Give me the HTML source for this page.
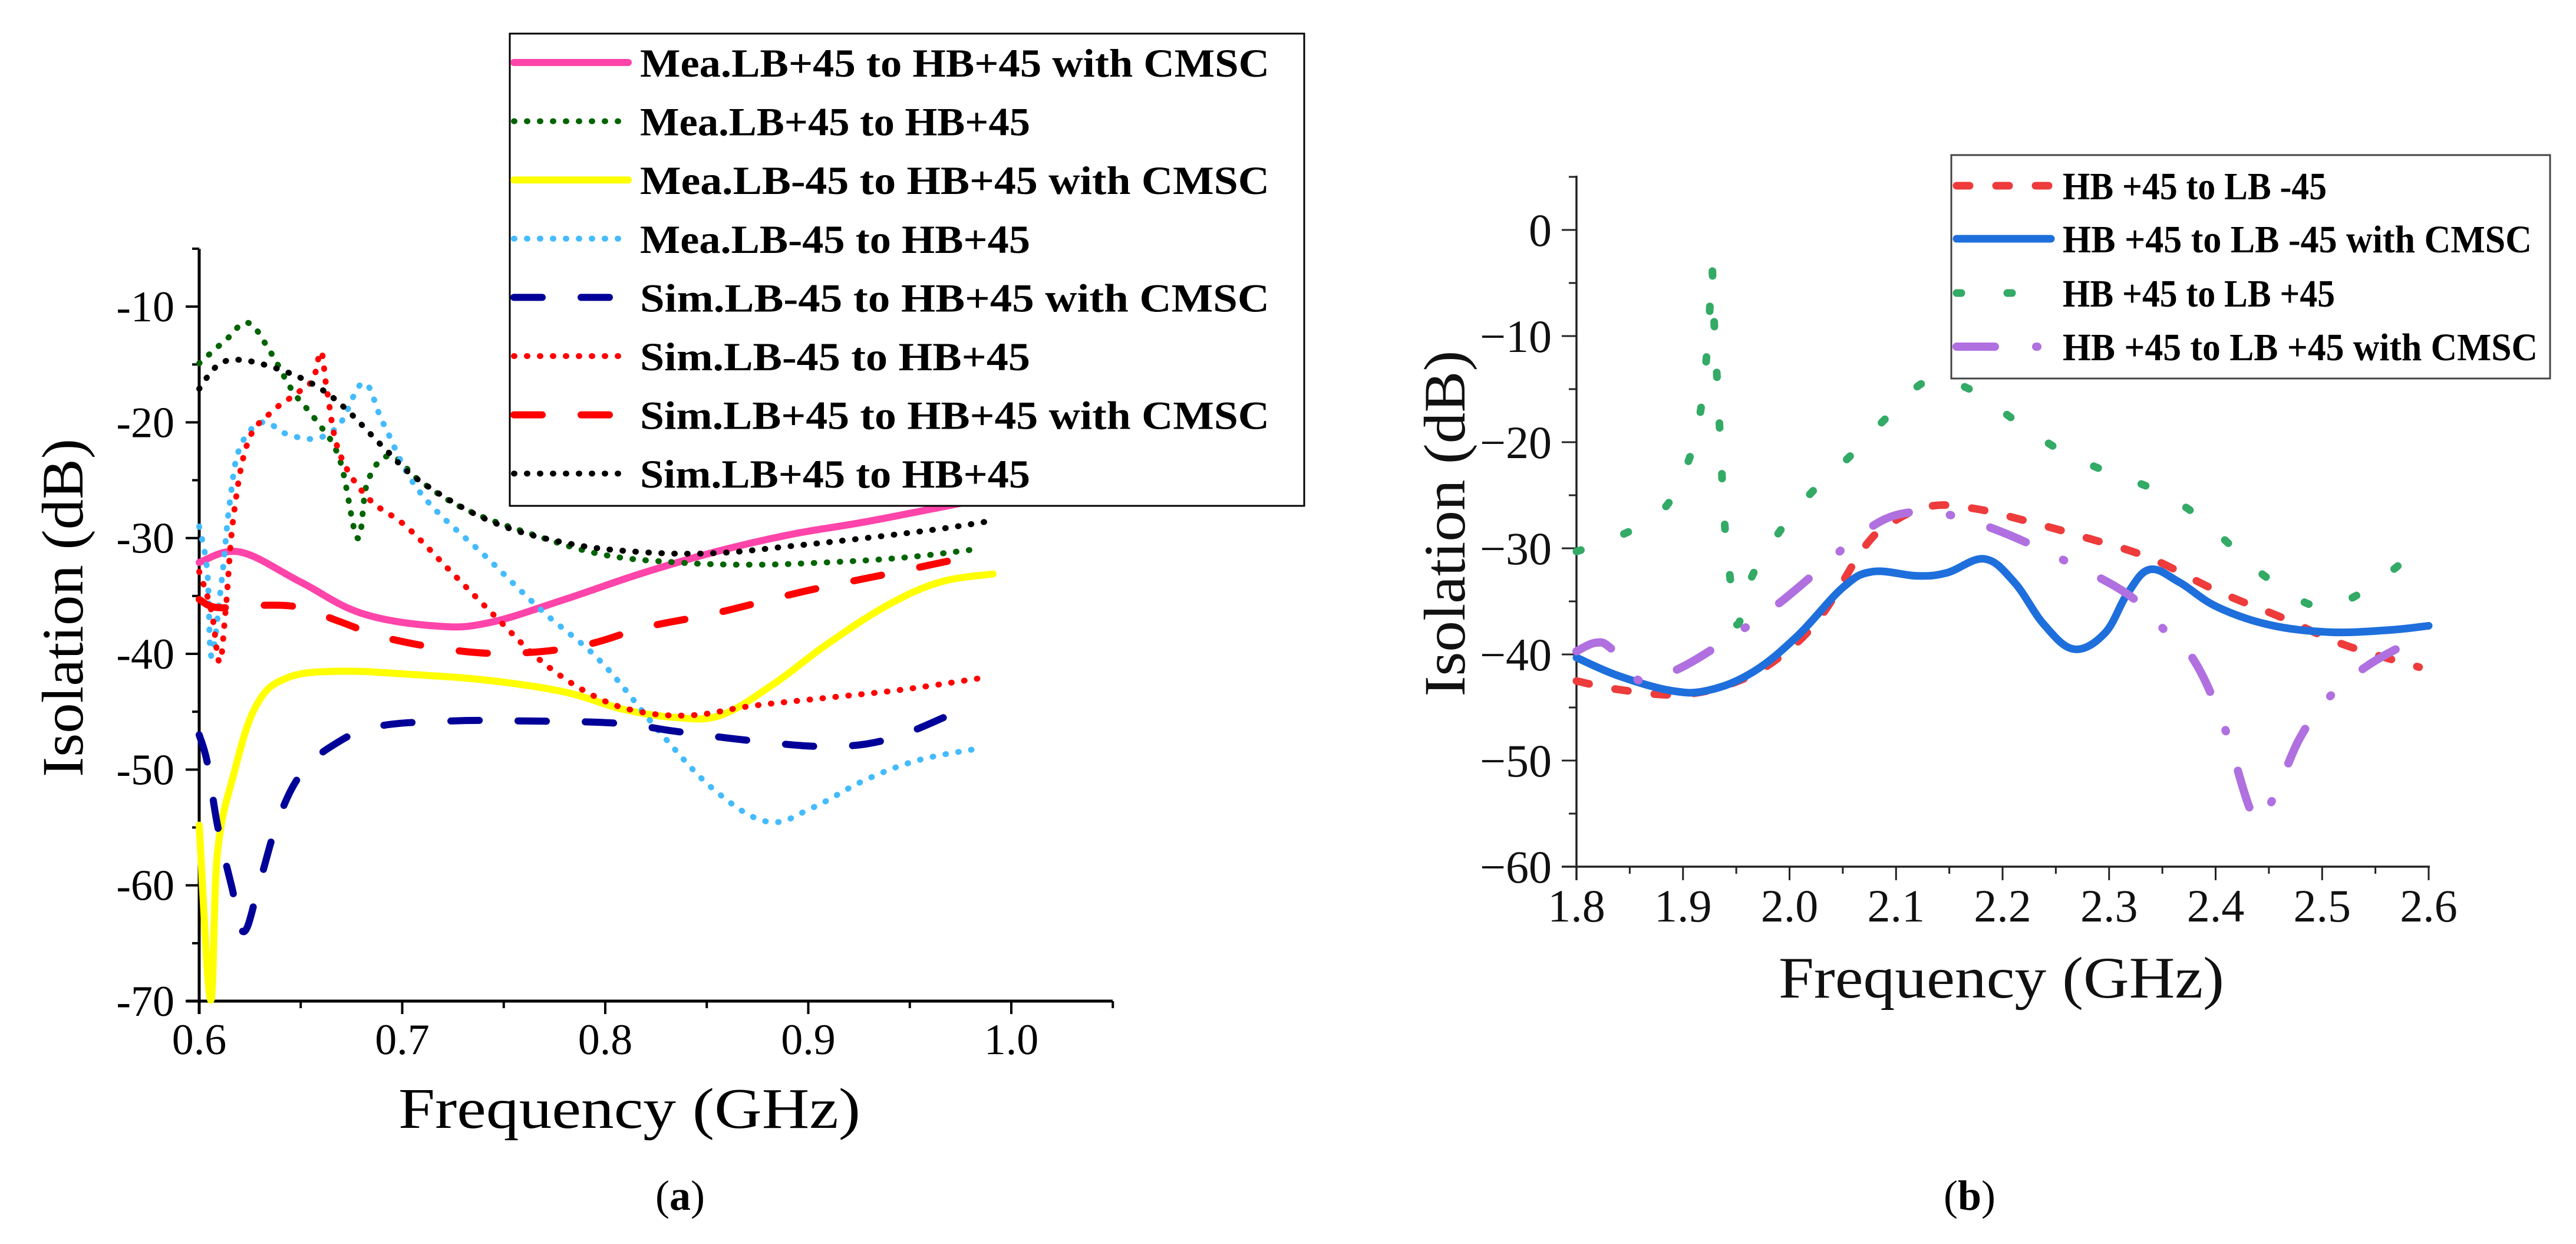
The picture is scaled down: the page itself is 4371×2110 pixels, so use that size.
<!DOCTYPE html>
<html><head><meta charset="utf-8"><style>
html,body{margin:0;padding:0;background:#fff;}
svg{display:block;font-family:"Liberation Serif",serif;}
</style></head><body>
<svg id="fig" width="4371" height="2110" viewBox="0 0 4371 2110" xmlns="http://www.w3.org/2000/svg">
<rect width="4371" height="2110" fill="#fff"/>
<g id="chartA"></g>
<g id="chartB"></g>
</svg>
<script>
// ---------- Chart A data ----------
const aTicksX = [0.6, 0.7, 0.8, 0.9, 1.0];
const aTickLabelsX = ["0.6", "0.7", "0.8", "0.9", "1.0"];
const aTicksY = [-10, -20, -30, -40, -50, -60, -70];
const aTickLabelsY = ["-10", "-20", "-30", "-40", "-50", "-60", "-70"];
const aPinkF = [0.6,0.62,0.65,0.68,0.717,0.743,0.78,0.817,0.854,0.891,0.928,0.972,0.99];
const aPinkV = [-32.1,-31.2,-33.8,-36.5,-37.6,-37.3,-35.3,-33.1,-31.2,-29.7,-28.6,-27.1,-26.5];
const aGreenF = [0.6,0.613,0.624,0.635,0.646,0.657,0.669,0.678,0.683,0.694,0.709,0.731,0.761,0.798,0.835,0.872,0.909,0.946,0.981];
const aGreenV = [-14.9,-12.9,-11.4,-13.9,-17.3,-19.7,-23.1,-30,-25.1,-22.9,-25.1,-27.5,-29.5,-31.4,-32.1,-32.3,-32.1,-31.7,-31.0];
const aYellowF = [0.6,0.6056,0.609,0.617,0.628,0.643,0.669,0.706,0.743,0.78,0.809,0.835,0.857,0.883,0.909,0.939,0.965,0.991];
const aYellowV = [-54.8,-69.9,-57.2,-50.4,-44.5,-42.1,-41.5,-41.8,-42.3,-43.3,-44.8,-45.5,-45.3,-42.6,-39.2,-35.8,-33.8,-33.1];
const aCyanF = [0.6,0.604,0.606,0.611,0.615,0.62,0.631,0.643,0.657,0.669,0.681,0.691,0.709,0.743,0.769,0.798,0.828,0.854,0.88,0.902,0.928,0.954,0.983];
const aCyanV = [-29,-32.9,-40.2,-33.8,-27,-22.2,-20,-21,-21.4,-20.2,-16.6,-20.2,-26.1,-31.9,-36.3,-40.7,-47,-51.8,-54.5,-53.3,-50.9,-49.2,-48.2];
const aNavyF = [0.6,0.604,0.609,0.616,0.622,0.63,0.639,0.65,0.665,0.687,0.724,0.761,0.806,0.835,0.872,0.909,0.939,0.972];
const aNavyV = [-47,-49.4,-54.8,-60.1,-64,-59.6,-54.3,-50.4,-48,-46.3,-45.8,-45.8,-46,-46.7,-47.5,-48,-47.4,-45.1];
const aRedDotF = [0.6,0.606,0.61,0.613,0.617,0.624,0.635,0.648,0.656,0.66,0.663,0.669,0.683,0.702,0.724,0.746,0.769,0.794,0.817,0.843,0.872,0.909,0.946,0.985];
const aRedDotV = [-32.9,-36.3,-40.7,-36.3,-28,-21.7,-19.2,-17.5,-16.3,-13.9,-17.3,-22.6,-26.5,-29,-32.9,-36.8,-40.7,-43.6,-45,-45.3,-44.5,-43.8,-43.1,-42.1];
const aRedDashF = [0.6,0.609,0.631,0.65,0.669,0.694,0.731,0.761,0.791,0.82,0.854,0.898,0.939,0.974];
const aRedDashV = [-35.3,-36,-35.8,-36,-37.2,-38.7,-39.8,-39.9,-39.2,-37.7,-36.5,-34.6,-33.1,-31.8];
const aBlackF = [0.6,0.609,0.62,0.639,0.657,0.672,0.691,0.709,0.743,0.78,0.817,0.854,0.891,0.928,0.965,0.987];
const aBlackV = [-17.1,-15.1,-14.6,-15.4,-16.8,-18.8,-22.2,-25.1,-28.5,-30.4,-31.2,-31.3,-30.7,-30,-29.2,-28.6];
const aLegendLabels = ["Mea.LB+45 to HB+45 with CMSC","Mea.LB+45 to HB+45","Mea.LB-45 to HB+45 with CMSC","Mea.LB-45 to HB+45","Sim.LB-45 to HB+45 with CMSC","Sim.LB-45 to HB+45","Sim.LB+45 to HB+45 with CMSC","Sim.LB+45 to HB+45"];

// ---------- Chart B data ----------
const bTicksX = [1.8,1.9,2.0,2.1,2.2,2.3,2.4,2.5,2.6];
const bTickLabelsX = ["1.8","1.9","2.0","2.1","2.2","2.3","2.4","2.5","2.6"];
const bTicksY = [0,-10,-20,-30,-40,-50,-60];
const bTickLabelsY = ["0","\u221210","\u221220","\u221230","\u221240","\u221250","\u221260"];
const bRedF = [1.8,1.839,1.895,1.944,1.986,2.028,2.071,2.099,2.134,2.176,2.225,2.275,2.338,2.401,2.464,2.521,2.591];
const bRedV = [-42.5,-43.3,-43.8,-42.8,-40.6,-36.6,-29.8,-27.4,-26,-26.3,-27.5,-28.9,-30.9,-34,-36.6,-39.1,-41.2];
const bBlueF = [1.8,1.839,1.888,1.923,1.965,2.007,2.05,2.078,2.12,2.148,2.183,2.211,2.239,2.267,2.296,2.317,2.338,2.366,2.401,2.45,2.507,2.563,2.6];
const bBlueV = [-40.3,-42,-43.4,-43.4,-41.7,-38.3,-33.7,-32.2,-32.6,-32.3,-31,-33.2,-37.2,-39.5,-38,-34.3,-32,-33.2,-35.5,-37.2,-37.9,-37.7,-37.3];
const bGreenF = [1.8,1.839,1.881,1.905,1.917,1.924,1.927,1.929,1.934,1.939,1.944,1.951,1.965,1.993,2.021,2.057,2.092,2.13,2.169,2.211,2.253,2.296,2.341,2.38,2.415,2.45,2.496,2.535,2.577];
const bGreenV = [-30.3,-28.9,-26.4,-21.8,-16.7,-9.4,-3.4,-8.2,-17.9,-27.5,-32.6,-37.2,-32.6,-28.1,-24.7,-21.3,-17.6,-14.2,-15,-17.9,-20.7,-22.7,-24.4,-26.7,-29.8,-32.9,-35.5,-34.3,-31.2];
const bPurpleF = [1.8,1.818,1.832,1.86,1.895,1.937,1.986,2.028,2.064,2.099,2.141,2.19,2.253,2.317,2.352,2.38,2.408,2.436,2.454,2.479,2.507,2.542,2.577];
const bPurpleV = [-39.7,-38.9,-39.4,-42.5,-41.4,-38.9,-35.5,-32,-28.9,-26.9,-26.7,-28.1,-30.9,-34.3,-37.7,-40.6,-46.8,-55.3,-53.6,-47.9,-44,-41.1,-39.1];
const bLegendLabels = ["HB +45 to LB -45","HB +45 to LB -45 with CMSC","HB +45 to LB +45","HB +45 to LB +45 with CMSC"];

const NS = "http://www.w3.org/2000/svg";
function mk(parent, tag, attrs){
  const e = document.createElementNS(NS, tag);
  for (const k in attrs) e.setAttribute(k, attrs[k]);
  parent.appendChild(e);
  return e;
}
// ---------- axis functions ----------
const axA = { x: f => 338 + (f - 0.6) * 3445, y: d => 1698 - (d + 70) * 19.633 };
const axB = { x: f => 2675 + (f - 1.8) * 1807.5, y: d => 390 - d * 18.0 };

function smoothPath(ax, F, V){
  const P = F.map((f,i)=>[ax.x(f), ax.y(V[i])]);
  let d = "M" + P[0][0].toFixed(1) + "," + P[0][1].toFixed(1);
  const t = 0.18;
  for (let i = 0; i < P.length - 1; i++){
    const p0 = P[Math.max(0,i-1)], p1 = P[i], p2 = P[i+1], p3 = P[Math.min(P.length-1,i+2)];
    const c1 = [p1[0] + (p2[0]-p0[0])*t, p1[1] + (p2[1]-p0[1])*t];
    const c2 = [p2[0] - (p3[0]-p1[0])*t, p2[1] - (p3[1]-p1[1])*t];
    d += " C" + c1[0].toFixed(1)+","+c1[1].toFixed(1)+" "+c2[0].toFixed(1)+","+c2[1].toFixed(1)+" "+p2[0].toFixed(1)+","+p2[1].toFixed(1);
  }
  return d;
}

// ================= Chart A =================
const gA = document.getElementById("chartA");
const aAxisY = mk(gA, "line", {x1:338,y1:422,x2:338,y2:1720,stroke:"#000","stroke-width":5});


const aAxisX = mk(gA, "line", {x1:316,y1:1698,x2:1888,y2:1698,stroke:"#000","stroke-width":5});


for (let k = 0; k <= 9; k++){
  const f = 0.6 + k*0.05, major = k%2===0;
  const t = mk(gA, "line", {x1:axA.x(f),y1:1698,x2:axA.x(f),y2:1698+(major?22:12),stroke:"#000","stroke-width":4});
  
  
}
for (let d = -70; d <= -5; d += 5){
  const major = d % 10 === 0;
  const t = mk(gA, "line", {x1:338-(major?23:12),y1:axA.y(d),x2:338,y2:axA.y(d),stroke:"#000","stroke-width":4});
  
  
}
aTicksX.forEach((f,i)=>{
  const t = mk(gA, "text", {x:axA.x(f),y:1788,"font-size":74,"text-anchor":"middle",fill:"#000"});
  t.textContent = aTickLabelsX[i];
  
  
});
aTicksY.forEach((d,i)=>{
  const t = mk(gA, "text", {x:296,y:axA.y(d)+25,"font-size":74,"text-anchor":"end",fill:"#000"});
  t.textContent = aTickLabelsY[i];
  
  
});
const aXT = mk(gA, "text", {x:676,y:1913,"font-size":98,fill:"#000",textLength:784,lengthAdjust:"spacingAndGlyphs"});
aXT.textContent = "Frequency (GHz)";


const aYT = mk(gA, "text", {x:0,y:0,"font-size":100,"text-anchor":"middle",fill:"#000",transform:"translate(140,1031) rotate(-90)",textLength:574,lengthAdjust:"spacingAndGlyphs"});
aYT.textContent = "Isolation (dB)";


const aCap = mk(gA, "text", {x:1154,y:2052,"font-size":72,"text-anchor":"middle",fill:"#000"});
aCap.innerHTML = '(<tspan font-weight="bold">a</tspan>)';



const aStyles = [
  {F:aPinkF,V:aPinkV,c:"#ff44aa",w:12,da:"",n:"series-mea-lb+45-cmsc"},
  {F:aGreenF,V:aGreenV,c:"#006400",w:10,da:"1 21",n:"series-mea-lb+45"},
  {F:aYellowF,V:aYellowV,c:"#ffff00",w:12,da:"",n:"series-mea-lb-45-cmsc"},
  {F:aCyanF,V:aCyanV,c:"#44bbff",w:10,da:"1 21",n:"series-mea-lb-45"},
  {F:aNavyF,V:aNavyV,c:"#000099",w:12,da:"48 66",n:"series-sim-lb-45-cmsc"},
  {F:aRedDotF,V:aRedDotV,c:"#ff0000",w:10,da:"1 21",n:"series-sim-lb-45"},
  {F:aRedDashF,V:aRedDashV,c:"#ff0000",w:12,da:"48 66",n:"series-sim-lb+45-cmsc"},
  {F:aBlackF,V:aBlackV,c:"#000000",w:10,da:"1 21",n:"series-sim-lb+45"}
];
aStyles.forEach(s=>{
  const p = mk(gA, "path", {d:smoothPath(axA,s.F,s.V),fill:"none",stroke:s.c,"stroke-width":s.w,"stroke-linecap":"round","stroke-linejoin":"round","stroke-dasharray":s.da});
  
  
});
const aLeg = mk(gA, "g", {});


mk(aLeg, "rect", {x:865,y:57,width:1348,height:801,fill:"#fff",stroke:"#000","stroke-width":3});
aLegendLabels.forEach((lab,i)=>{
  const cy = 106 + i*99.6;
  const s = aStyles[i];
  const ls = mk(aLeg, "line", {x1:872,y1:cy,x2:1066,y2:cy,stroke:s.c,"stroke-width":s.w,"stroke-linecap":"round","stroke-dasharray":s.da});
  
  
  const wide = lab.indexOf("CMSC")>=0;
  const t = mk(aLeg, "text", {x:1086,y:cy+24,"font-size":68,"font-weight":"bold",fill:"#000",textLength:wide?1068:662,lengthAdjust:"spacingAndGlyphs"});
  t.textContent = lab;
  
  
});

// ================= Chart B =================
const gB = document.getElementById("chartB");
const bAxisY = mk(gB, "line", {x1:2675,y1:298,x2:2675,y2:1493,stroke:"#222","stroke-width":3.5});


const bAxisX = mk(gB, "line", {x1:2650,y1:1470,x2:4123,y2:1470,stroke:"#222","stroke-width":3.5});


for (let k = 0; k <= 16; k++){
  const f = 1.8 + k*0.05, major = k%2===0;
  const t = mk(gB, "line", {x1:axB.x(f),y1:1470,x2:axB.x(f),y2:1470+(major?23:12),stroke:"#222","stroke-width":3});
  
  
}
for (let d = -60; d <= 5; d += 5){
  const major = d % 10 === 0;
  const t = mk(gB, "line", {x1:2675-(major?25:13),y1:axB.y(d),x2:2675,y2:axB.y(d),stroke:"#222","stroke-width":3});
  
  
}
bTicksX.forEach((f,i)=>{
  const t = mk(gB, "text", {x:axB.x(f),y:1563,"font-size":78,"text-anchor":"middle",fill:"#111"});
  t.textContent = bTickLabelsX[i];
  
  
});
bTicksY.forEach((d,i)=>{
  const t = mk(gB, "text", {x:2633,y:axB.y(d)+27,"font-size":78,"text-anchor":"end",fill:"#111"});
  t.textContent = bTickLabelsY[i];
  
  
});
const bXT = mk(gB, "text", {x:3018,y:1692,"font-size":100,fill:"#111",textLength:756,lengthAdjust:"spacingAndGlyphs"});
bXT.textContent = "Frequency (GHz)";


const bYT = mk(gB, "text", {x:0,y:0,"font-size":100,"text-anchor":"middle",fill:"#111",transform:"translate(2485,888) rotate(-90)",textLength:587,lengthAdjust:"spacingAndGlyphs"});
bYT.textContent = "Isolation (dB)";


const bCap = mk(gB, "text", {x:3342,y:2052,"font-size":72,"text-anchor":"middle",fill:"#000"});
bCap.innerHTML = '(<tspan font-weight="bold">b</tspan>)';



const bStyles = [
  {F:bRedF,V:bRedV,c:"#ee3b3b",w:13,da:"22 45",n:"series-hb45-lb-45"},
  {F:bBlueF,V:bBlueV,c:"#1e6fdc",w:13,da:"",n:"series-hb45-lb-45-cmsc"},
  {F:bGreenF,V:bGreenV,c:"#33aa66",w:13,da:"8 78",n:"series-hb45-lb+45"},
  {F:bPurpleF,V:bPurpleV,c:"#b070e0",w:14,da:"65 70 2 70",n:"series-hb45-lb+45-cmsc"}
];
bStyles.forEach(s=>{
  const p = mk(gB, "path", {d:smoothPath(axB,s.F,s.V),fill:"none",stroke:s.c,"stroke-width":s.w,"stroke-linecap":"round","stroke-linejoin":"round","stroke-dasharray":s.da});
  
  
});
const bLeg = mk(gB, "g", {});


mk(bLeg, "rect", {x:3311,y:263,width:1016,height:379,fill:"#fff",stroke:"#444","stroke-width":3});
const bRowY = [315,405,497,588];
const bTextW = [448,796,462,806];
bLegendLabels.forEach((lab,i)=>{
  const s = bStyles[i];
  const ls = mk(bLeg, "line", {x1:3320,y1:bRowY[i],x2:3480,y2:bRowY[i],stroke:s.c,"stroke-width":s.w,"stroke-linecap":"round","stroke-dasharray":s.da});
  
  
  const t = mk(bLeg, "text", {x:3500,y:bRowY[i]+23,"font-size":66,"font-weight":"bold",fill:"#000",textLength:bTextW[i],lengthAdjust:"spacingAndGlyphs"});
  t.textContent = lab;
  
  
});
</script>
</body></html>
